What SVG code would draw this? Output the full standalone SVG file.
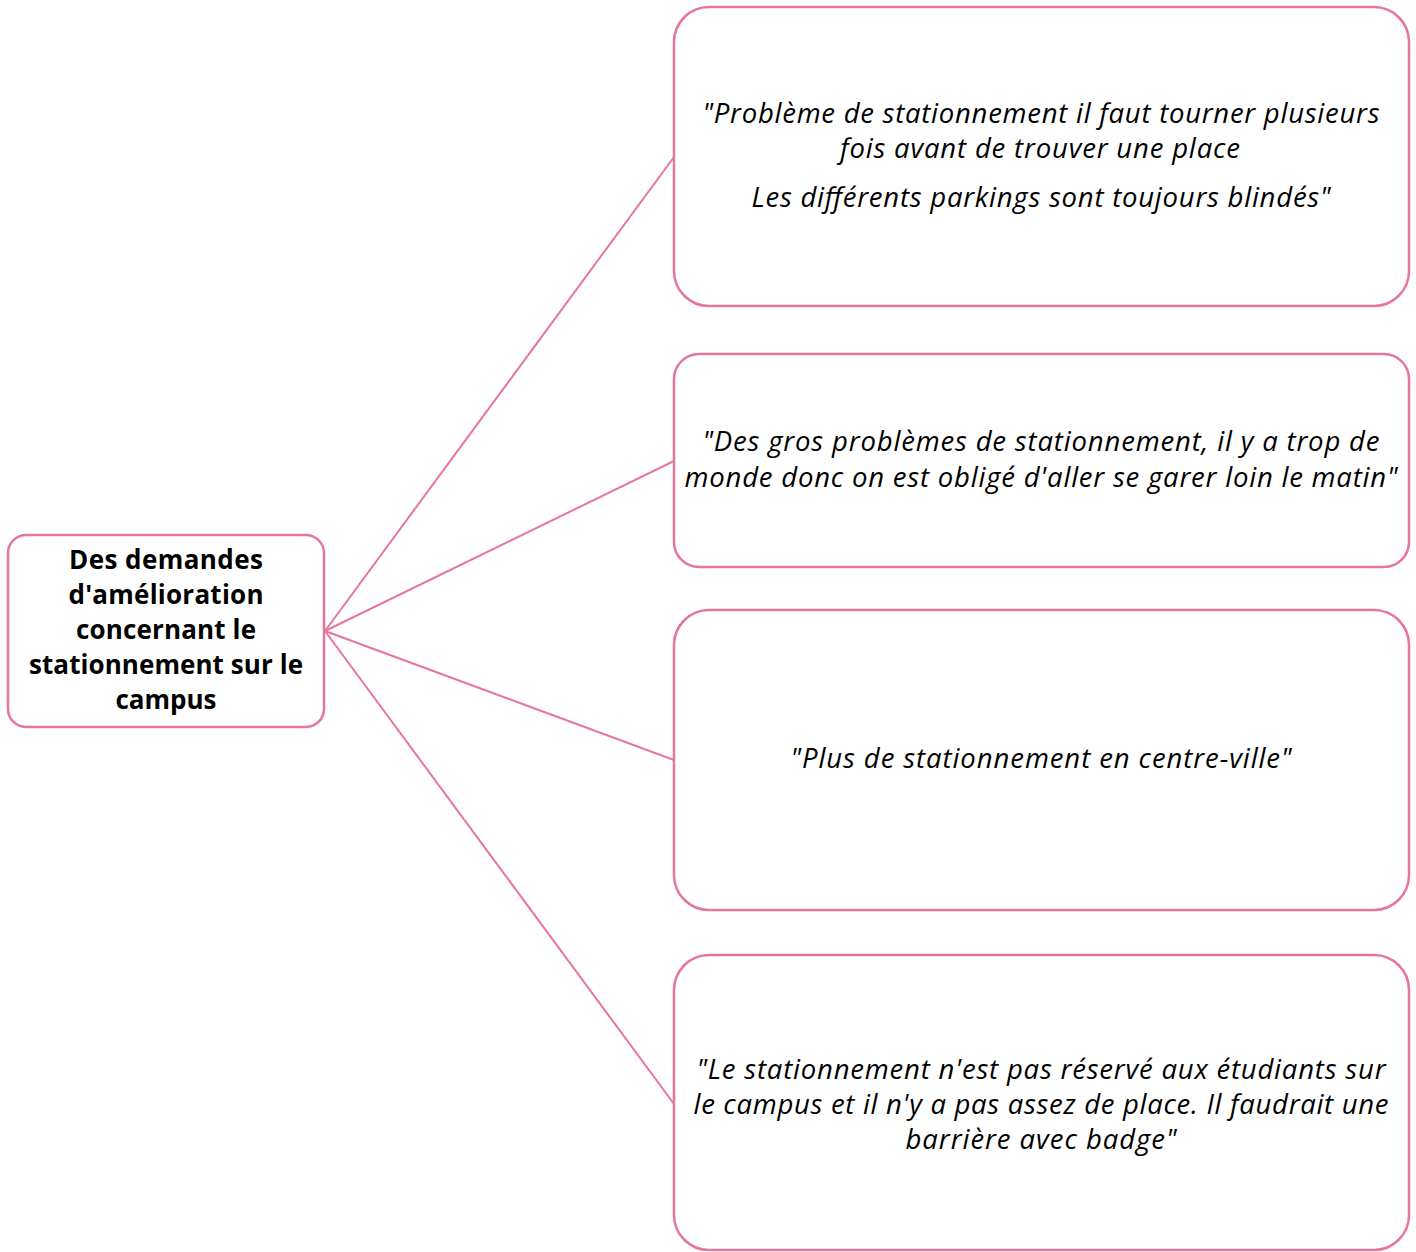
<svg xmlns="http://www.w3.org/2000/svg" width="1416" height="1252" viewBox="0 0 1416 1252">
<style>
.box{fill:#fff;stroke:#E8769A;stroke-width:2.5}
.con{stroke:#E8769A;stroke-width:2;fill:none}
.q{font-family:"Open Sans","Noto Sans",sans-serif;font-style:italic;font-size:27.5px;fill:#000;text-anchor:middle}
.t{font-family:"Open Sans","Noto Sans",sans-serif;font-weight:bold;font-size:26px;fill:#000;text-anchor:middle}
</style>
<rect width="1416" height="1252" fill="#fff"/>
<g id="connectors">
<line class="con" x1="325" y1="631" x2="674" y2="157"/>
<line class="con" x1="325" y1="631" x2="674" y2="461"/>
<line class="con" x1="325" y1="631" x2="674" y2="760"/>
<line class="con" x1="325" y1="631" x2="674" y2="1104"/>
</g>
<g id="root">
<rect class="box" x="8" y="535" width="316" height="192" rx="18"/>
<text class="t" x="166" y="569" textLength="194" lengthAdjust="spacing">Des demandes</text>
<text class="t" x="166" y="604" textLength="195" lengthAdjust="spacing">d'amélioration</text>
<text class="t" x="166" y="639" textLength="180" lengthAdjust="spacing">concernant le</text>
<text class="t" x="166" y="674" textLength="274" lengthAdjust="spacing">stationnement sur le</text>
<text class="t" x="166" y="709" textLength="101" lengthAdjust="spacing">campus</text>
</g>
<g id="n1">
<rect class="box" x="674" y="7" width="735" height="299" rx="35"/>
<text class="q" x="1041" y="123" textLength="677" lengthAdjust="spacing">"Problème de stationnement il faut tourner plusieurs</text>
<text class="q" x="1040" y="158" textLength="400" lengthAdjust="spacing">fois avant de trouver une place</text>
<text class="q" x="1041" y="207" textLength="579" lengthAdjust="spacing">Les différents parkings sont toujours blindés"</text>
</g>
<g id="n2">
<rect class="box" x="674" y="354" width="735" height="213" rx="25"/>
<text class="q" x="1041" y="451" textLength="677" lengthAdjust="spacing">"Des gros problèmes de stationnement, il y a trop de</text>
<text class="q" x="1041" y="487" textLength="713" lengthAdjust="spacing">monde donc on est obligé d'aller se garer loin le matin"</text>
</g>
<g id="n3">
<rect class="box" x="674" y="610" width="735" height="300" rx="35"/>
<text class="q" x="1041" y="768" textLength="501" lengthAdjust="spacing">"Plus de stationnement en centre-ville"</text>
</g>
<g id="n4">
<rect class="box" x="674" y="955" width="735" height="295" rx="35"/>
<text class="q" x="1041" y="1079" textLength="689" lengthAdjust="spacing">"Le stationnement n'est pas réservé aux étudiants sur</text>
<text class="q" x="1041" y="1114" textLength="695" lengthAdjust="spacing">le campus et il n'y a pas assez de place. Il faudrait une</text>
<text class="q" x="1041" y="1149" textLength="271" lengthAdjust="spacing">barrière avec badge"</text>
</g>
</svg>
